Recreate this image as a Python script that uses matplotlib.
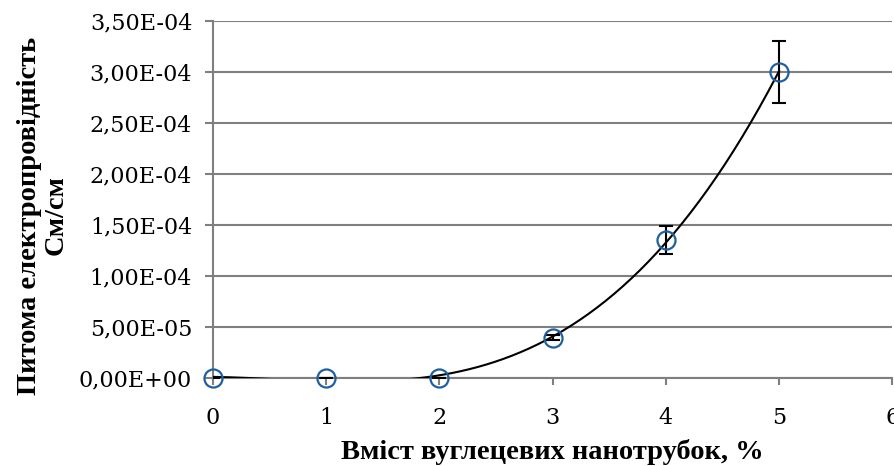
import numpy as np
import matplotlib.pyplot as plt
from matplotlib.ticker import FuncFormatter

# вміст нанотрубок, % та питома електропровідність, См/см
content = [0, 1, 2, 3, 4, 5]
conductivity = [0.0, 0.0, 0.0, 3.92e-5, 1.353e-4, 3.0e-4]
errors = [0.0, 0.0, 0.0, 2.5e-6, 1.34e-5, 3.0e-5]

plt.rcParams['font.family'] = ['DejaVu Serif']
label_font = ['Liberation Serif', 'DejaVu Serif']

fig = plt.figure(figsize=(8.95, 4.66), dpi=100)
ax = fig.add_axes([0.238, 0.189, 0.759, 0.766])

# поліноміальна лінія тренду 3-го степеня
coef = np.polyfit(content, conductivity, 3)
xs = np.linspace(0, 5, 200)
ax.plot(xs, np.polyval(coef, xs), color='black', lw=1.5, zorder=3)

ax.errorbar(content, conductivity, yerr=errors, fmt='none', ecolor='black',
            elinewidth=1.5, capsize=5, capthick=1.5, zorder=4)
ax.plot(content, conductivity, 'o', ms=13, mfc='none', mec='#1f5fa0',
        mew=1.6, zorder=5, clip_on=False)

ax.set_xlim(0, 6)
ax.set_ylim(0, 3.5e-4)
ax.set_xticks(range(0, 7))
ax.set_yticks(np.arange(0, 3.51e-4, 5e-5))
ax.yaxis.set_major_formatter(FuncFormatter(lambda v, p: f"{v:.2E}".replace('.', ',')))

ax.grid(axis='y', color='#7f7f7f', lw=1.5)
ax.set_axisbelow(True)
for s in ['top', 'right']:
    ax.spines[s].set_visible(False)
for s in ['left', 'bottom']:
    ax.spines[s].set_color('#7f7f7f')
    ax.spines[s].set_linewidth(1.5)

ax.tick_params(axis='x', length=5, width=1.5, color='#7f7f7f', pad=16, labelsize=16)
ax.tick_params(axis='y', length=6, width=1.5, color='#7f7f7f', pad=9, labelsize=16)

ax.set_xlabel("Вміст вуглецевих нанотрубок, %", fontweight='bold', fontsize=20.5,
              family=label_font)
ax.xaxis.set_label_coords(0.5, -0.17)
ax.set_ylabel("Питома електропровідність\nСм/см", fontweight='bold', fontsize=20.5,
              family=label_font, linespacing=1.1)
ax.yaxis.set_label_coords(-0.212, 0.455)

fig.savefig("out.png", dpi=100)
